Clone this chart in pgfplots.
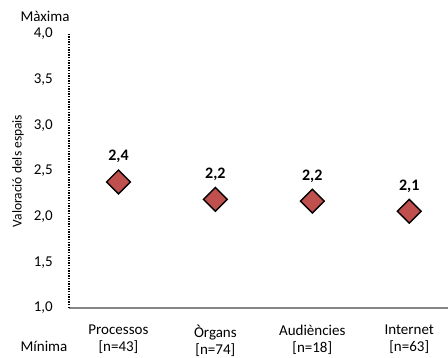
\documentclass[border=0pt]{standalone}
\usepackage{fontspec}
\setmainfont{Carlito}
\usepackage{pgfplots}
\pgfplotsset{compat=1.18}
\definecolor{markred}{HTML}{C0504D}
\definecolor{axisgray}{HTML}{868686}
\begin{document}
\begin{tikzpicture}
\begin{axis}[
  at={(0pt,0pt)}, anchor=south west,
  scale only axis, width=379pt, height=274pt,
  xmin=-0.51, xmax=3.4, ymin=1, ymax=4,
  axis lines*=left,
  x axis line style={axisgray, line width=1.1pt},
  y axis line style={black, line width=1.3pt, dash pattern=on 1.3pt off 1.3pt},
  major tick length=0pt,
  xtick={0,1,2,3},
  xticklabels={Processos\\{[n=43]}, Òrgans\\{[n=74]}, Audiències\\{[n=18]}, Internet\\{[n=63]}},
  xticklabel style={align=center, anchor=north, inner sep=0pt, yshift=-17pt,
    font=\fontsize{15}{16.5}\selectfont},
  ytick={1,1.5,...,4},
  yticklabel style={anchor=east, inner sep=0pt, xshift=-16pt, font=\fontsize{15}{17}\selectfont},
  /pgf/number format/.cd, use comma, fixed, fixed zerofill, precision=1, assume math mode=true,
  /pgfplots/.cd,
  ylabel={Valoració dels espais},
  ylabel style={at={(axis description cs:-0.1346,0.5)}, anchor=center, inner sep=0pt,
    font=\fontsize{13.5}{15}\selectfont},
  nodes near coords={\pgfmathprintnumber[fixed,fixed zerofill,precision=1,use comma]{\pgfplotspointmeta}},
  nodes near coords style={anchor=base, inner sep=0pt, yshift=21pt,
    font=\bfseries\fontsize{16}{18}\selectfont, text=black},
  clip=false,
]
\addplot[only marks, mark=square*, mark size=8.4pt,
  mark options={rotate=45, fill=markred, draw=black, line width=1.4pt}]
  coordinates {(0,2.38) (1,2.19) (2,2.17) (3,2.06)};
\end{axis}
\node[anchor=base, font=\fontsize{15}{17}\selectfont, inner sep=0pt] at (-24pt,286pt) {Màxima};
\node[anchor=base, font=\fontsize{15}{17}\selectfont, inner sep=0pt] at (-25pt,-44pt) {Mínima};
\pgfresetboundingbox
\path[use as bounding box] (-69pt,-50pt) rectangle (379pt,308pt);
\end{tikzpicture}
\end{document}
